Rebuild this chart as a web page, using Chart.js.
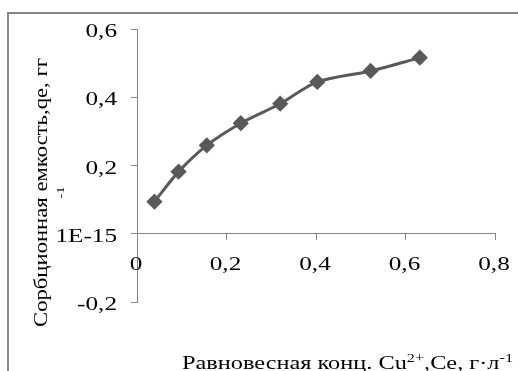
<!DOCTYPE html>
<html>
<head>
<meta charset="utf-8">
<script src="https://cdn.jsdelivr.net/npm/chart.js@4/dist/chart.umd.min.js"></script>
<style>
  body { margin: 0; background: #fff; }
</style>
</head>
<body>
<canvas id="chart" width="518" height="371"></canvas>
<script>
// equilibrium concentration Ce, g/L
const ce = [0.039, 0.093, 0.156, 0.232, 0.320, 0.403, 0.522, 0.632];
// sorption capacity qe
const qe = [0.094, 0.182, 0.259, 0.324, 0.381, 0.445, 0.477, 0.516];

const xTitle = ["Равновесная конц. Cu", "2+", ",Ce, г·л", "-1"];
const yTitle = ["Сорбционная емкость,qe, гг", "-1"];

const axisGray = "#868686";
const serif = "'Liberation Serif', 'Times New Roman', serif";

const points = ce.map((x, i) => ({ x: x, y: qe[i] }));

function fmt(v) {
  if (Math.abs(v) < 1e-9) return "0";
  return (Math.round(v * 10) / 10).toString().replace(".", ",");
}
function yLabel(v) {
  return Math.abs(v) < 1e-9 ? "1E-15" : fmt(v);
}

// text in the picture is wider than the font, so stretch it sideways
function wideText(ctx, s, x, y, sx, align) {
  const w = ctx.measureText(s).width * sx;
  let left = x;
  if (align === "center") left = x - w / 2;
  if (align === "right") left = x - w;
  ctx.save();
  ctx.translate(left, y);
  ctx.scale(sx, 1);
  ctx.textAlign = "left";
  ctx.fillText(s, 0, 0);
  ctx.restore();
}

const decor = {
  id: "decor",
  beforeDraw(chart) {
    const ctx = chart.ctx;
    ctx.save();
    ctx.strokeStyle = axisGray;
    ctx.lineWidth = 2;
    ctx.strokeRect(8, 13, 700, 700);
    ctx.restore();
  },
  afterDraw(chart) {
    const ctx = chart.ctx;
    const xs = chart.scales.x, ys = chart.scales.y;
    ctx.save();
    ctx.fillStyle = "#000";
    ctx.textBaseline = "alphabetic";

    // tick labels
    ctx.font = "18px " + serif;
    const zeroY = ys.getPixelForValue(0);
    xs.ticks.forEach(t => {
      wideText(ctx, fmt(t.value), xs.getPixelForValue(t.value) - 1, zeroY + 36, 1.4, "center");
    });
    ys.ticks.forEach(t => {
      wideText(ctx, yLabel(t.value), ys.right - 20, ys.getPixelForValue(t.value) + 8, 1.4, "right");
    });

    // y title, rotated
    ctx.save();
    ctx.translate(0, 192.5);
    ctx.rotate(-Math.PI / 2);
    ctx.font = "18px " + serif;
    const yw = ctx.measureText(yTitle[0]).width;
    wideText(ctx, yTitle[0], 0, 47, 269 / yw, "center");
    ctx.font = "11px " + serif;
    wideText(ctx, yTitle[1], 0, 64, 1.3, "center");
    ctx.restore();

    // x title with superscripts
    let total = 0;
    xTitle.forEach((s, i) => {
      ctx.font = (i % 2 ? "12px " : "18px ") + serif;
      total += ctx.measureText(s).width;
    });
    const sx = 331 / total;
    let x = 182;
    const base = 369;
    xTitle.forEach((s, i) => {
      const sup = i % 2 === 1;
      ctx.font = (sup ? "12px " : "18px ") + serif;
      wideText(ctx, s, x, sup ? base - 7 : base, sx, "left");
      x += ctx.measureText(s).width * sx;
    });
    ctx.restore();
  }
};

new Chart(document.getElementById("chart"), {
  type: "line",
  data: {
    datasets: [{
      data: points,
      borderColor: "#595959",
      backgroundColor: "#595959",
      borderWidth: 3,
      pointStyle: "rectRot",
      pointRadius: 6,
      pointHoverRadius: 6,
      tension: 0.3
    }]
  },
  options: {
    responsive: false,
    animation: false,
    layout: { padding: { left: 0, top: 29, right: 23, bottom: 69 } },
    plugins: { legend: { display: false }, tooltip: { enabled: false } },
    scales: {
      x: {
        type: "linear",
        position: { y: 0 },
        min: 0,
        max: 0.8,
        ticks: { stepSize: 0.2, display: false },
        grid: { drawOnChartArea: false, color: axisGray, tickLength: 6 },
        border: { color: axisGray, width: 1 }
      },
      y: {
        position: "left",
        min: -0.2,
        max: 0.6,
        afterFit: s => { s.width = 137; },
        ticks: { stepSize: 0.2, display: false },
        grid: { drawOnChartArea: false, color: axisGray, tickLength: 6 },
        border: { color: axisGray, width: 1 }
      }
    }
  },
  plugins: [decor]
});
</script>
</body>
</html>
